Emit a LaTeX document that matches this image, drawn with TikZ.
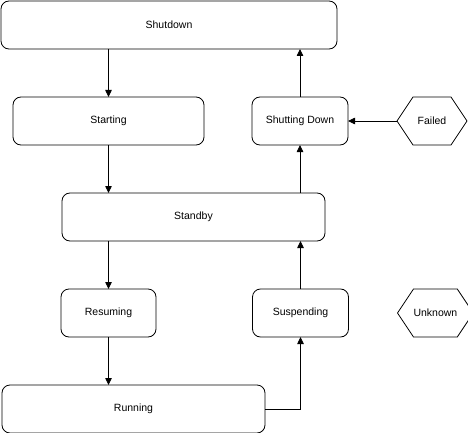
\documentclass[tikz,border=0pt]{standalone}
\usepackage{fontspec}
\setmainfont{Liberation Sans}
\usetikzlibrary{positioning}
\usetikzlibrary{arrows.meta}
\usetikzlibrary{shapes.symbols}

\begin{document}
\begin{tikzpicture}[state/.style={draw, line width=0.8pt, rounded corners=8pt, minimum height=48pt, inner sep=0pt, outer sep=0pt, font=\fontsize{10.5}{12}\selectfont},
    pseudo/.style={draw, line width=0.8pt, signal, signal to=west and east, signal pointer angle=112.6, minimum width=70pt, minimum height=48pt, inner sep=0pt, outer sep=0pt, font=\fontsize{10.5}{12}\selectfont},
    arrow/.style={-{Triangle[length=7pt,width=6.5pt]}, line width=0.8pt},
]
\useasboundingbox (0,0) rectangle (468pt,-433pt);

\node[state, minimum width=336pt] (shutdown) at (169pt,-25pt) {Shutdown};
\node[state, minimum width=191pt, below=48pt of shutdown, xshift=-60.5pt] (starting) {Starting};
\node[state, minimum width=263pt, below=48pt of starting, xshift=85pt] (standby) {Standby};
\node[state, minimum width=95pt, below=48pt of standby, xshift=-85pt] (resuming) {Resuming};
\node[state, minimum width=263pt, below=48pt of resuming, xshift=25pt] (running) {Running};

\node[state, minimum width=96pt, below=48pt of shutdown, xshift=131pt] (shuttingdown) {Shutting Down};
\node[state, minimum width=96pt, below=48pt of standby, xshift=107pt] (suspending) {Suspending};
\node[pseudo, right=49pt of shuttingdown] (failed) {Failed};
\node[pseudo, right=49pt of suspending] (unknown) {Unknown};

\draw[arrow] (starting.north |- shutdown.south) -- (starting.north);
\draw[arrow] (starting.south) -- (starting.south |- standby.north);
\draw[arrow] (resuming.north |- standby.south) -- (resuming.north);
\draw[arrow] (resuming.south) -- (resuming.south |- running.north);

\draw[arrow] (running.east) -| (suspending.south);
\draw[arrow] (suspending.north) -- (suspending.north |- standby.south);
\draw[arrow] (shuttingdown.south |- standby.north) -- (shuttingdown.south);
\draw[arrow] (shuttingdown.north) -- (shuttingdown.north |- shutdown.south);
\draw[arrow] (failed.west) -- (shuttingdown.east);

\end{tikzpicture}
\end{document}
